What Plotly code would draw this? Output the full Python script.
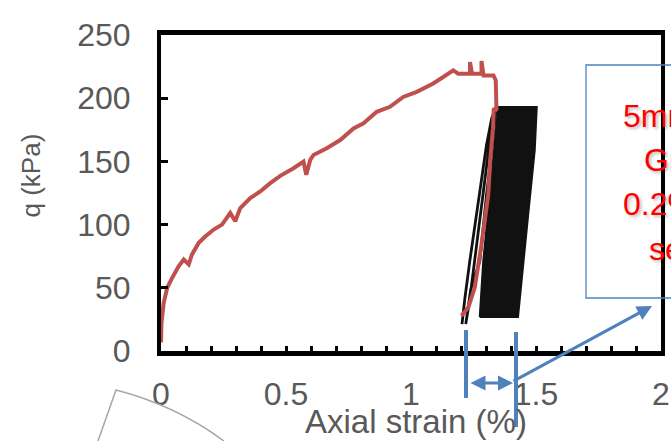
import plotly.graph_objects as go

# Monotonic loading path up to peak, then unloading before cycling
strain_load = [0.0, 0.002, 0.011, 0.025, 0.045, 0.071, 0.091, 0.111, 0.124, 0.151,
               0.178, 0.211, 0.244, 0.277, 0.297, 0.317, 0.357, 0.397, 0.437, 0.477,
               0.53, 0.57, 0.581, 0.597, 0.61, 0.663, 0.717, 0.77, 0.81, 0.863,
               0.916, 0.969, 1.023, 1.089, 1.129, 1.169, 1.189, 1.229, 1.236, 1.236,
               1.244, 1.282, 1.282, 1.29, 1.33, 1.339, 1.342, 1.331, 1.328, 1.317,
               1.309, 1.282, 1.255, 1.229, 1.202]
q_load = [6.8, 22.6, 38.3, 50.1, 58, 67.2, 72.4, 68.5, 76.4, 85.6,
          90.8, 96.1, 100, 109.2, 102.6, 113.1, 121, 126.2, 132.8, 138.6,
          144.6, 149.8, 139.4, 151.2, 155.1, 160.4, 166.9, 176.1, 180.1, 189.2,
          193.2, 201, 205, 211.6, 216.8, 222, 219.4, 219.4, 219.4, 228.6,
          219.4, 219.4, 229.4, 218, 218, 214, 190.5, 191.9, 176.1, 151.2,
          123.6, 84.3, 50.2, 34.4, 27.8]

# First few load–unload cycles
cyc_strain = [1.204, 1.215, 1.235, 1.255, 1.275, 1.302, 1.323, 1.339,
              1.313, 1.288, 1.255, 1.235, 1.219,
              1.239, 1.275, 1.302, 1.326, 1.339]
cyc_q = [21.3, 40.9, 70.9, 97.6, 123.6, 163, 184.3, 192.1,
         163, 123.6, 70.9, 40.9, 21.3,
         48.8, 70.9, 123.6, 163, 189]

# Envelope of the dense cyclic loading band
band_strain = [1.275, 1.289, 1.315, 1.335, 1.349, 1.503, 1.495, 1.468, 1.442, 1.428, 1.275]
band_q = [26.8, 71.1, 123.6, 163, 193, 193, 159, 106.5, 54.1, 26.8, 26.8]

x_ticks = [0, 0.5, 1, 1.5, 2]
x_tick_text = ["0", "0.5", "1", "1.5", "2"]
y_ticks = [0, 50, 100, 150, 200, 250]
y_tick_text = ["0", "50", "100", "150", "200", "250"]

note_lines = ["5mm", "Gravel", "0.2%", "settlement"]

W, H = 671, 441
L, R, T, B = 161, 10, 35, 90
GRAY = "#595959"
BLUE = "#4F81BD"
FONT = "Liberation Sans, Arial, sans-serif"


def px(x):
    return (x - L) / (W - L - R)


def py(y):
    return (H - B - y) / (H - T - B)


fig = go.Figure()
fig.add_trace(go.Scatter(x=band_strain, y=band_q, mode="lines", fill="toself",
                         fillcolor="#111111", line=dict(color="#111111", width=2),
                         hoverinfo="skip", showlegend=False))
fig.add_trace(go.Scatter(x=cyc_strain, y=cyc_q, mode="lines",
                         line=dict(color="#111111", width=2.8),
                         hoverinfo="skip", showlegend=False))
fig.add_trace(go.Scatter(x=strain_load, y=q_load, mode="lines",
                         line=dict(color="#C0504D", width=4),
                         showlegend=False))

axis_common = dict(showline=True, linecolor="black", mirror=True,
                   showgrid=False, zeroline=False, ticks="inside", tickcolor="black",
                   automargin=False,
                   tickfont=dict(family=FONT, size=32, color=GRAY))
fig.update_xaxes(range=[0, 2], tickvals=x_ticks, ticktext=x_tick_text,
                 linewidth=5, ticklen=5, tickwidth=2.5, ticklabelstandoff=11,
                 minor=dict(ticks="inside", dtick=0.1, ticklen=5, tickwidth=2.5,
                            tickcolor="black", showgrid=False),
                 **axis_common)
fig.update_yaxes(range=[0, 250], tickvals=y_ticks, ticktext=y_tick_text,
                 linewidth=4, ticklen=7, tickwidth=3, ticklabelstandoff=20,
                 **axis_common)

shapes = [
    # note box
    dict(type="rect", xref="paper", yref="paper", x0=px(586), x1=px(730),
         y0=py(298), y1=py(65), line=dict(color=BLUE, width=1.3)),
    # strain range markers
    dict(type="line", xref="paper", yref="paper", x0=px(466), x1=px(466),
         y0=py(330), y1=py(398), line=dict(color=BLUE, width=4)),
    dict(type="line", xref="paper", yref="paper", x0=px(516), x1=px(516),
         y0=py(332), y1=py(427), line=dict(color=BLUE, width=4)),
    # wedge outline in the lower left corner
    dict(type="path", xref="paper", yref="paper",
         path=(f"M {px(98)},{py(441)} L {px(116)},{py(390)} "
               f"Q {px(175)},{py(405)} {px(224)},{py(441)}"),
         line=dict(color="#A6A6A6", width=1.5)),
]
fig.update_layout(shapes=shapes)

ann = [
    dict(text="Axial strain (%)", x=px(415.5), y=py(421), xref="paper", yref="paper",
         showarrow=False, xanchor="center", yanchor="middle",
         font=dict(family=FONT, size=33, color=GRAY)),
    dict(text="q (kPa)", x=px(30), y=py(175.5), xref="paper", yref="paper",
         showarrow=False, textangle=-90, xanchor="center", yanchor="middle",
         font=dict(family=FONT, size=26, color=GRAY)),
    # double-headed arrow between the markers
    dict(text="", x=px(513), y=py(383), xref="paper", yref="paper",
         ax=-44, ay=0, axref="pixel", ayref="pixel", showarrow=True,
         arrowhead=2, startarrowhead=2, arrowside="end+start", arrowsize=1,
         startarrowsize=1, arrowwidth=3, arrowcolor=BLUE),
    # pointer to the note box
    dict(text="", x=px(652), y=py(306), xref="paper", yref="paper",
         ax=-140, ay=76, axref="pixel", ayref="pixel", showarrow=True,
         arrowhead=2, arrowsize=1, arrowwidth=3, arrowcolor=BLUE),
]
note_left = [621.7, 643.3, 621.7, 648.3]
note_mid = [116, 160, 204, 249]
for txt, xl, ym in zip(note_lines, note_left, note_mid):
    ann.append(dict(text=txt, x=px(xl), y=py(ym), xref="paper", yref="paper",
                    showarrow=False, xanchor="left", yanchor="middle", borderpad=0,
                    font=dict(family=FONT, size=32, color="#FF0000",
                              shadow="2px 2px 3px rgba(0,0,0,0.25)")))
fig.update_layout(annotations=ann)

fig.update_layout(template="none", width=W, height=H,
                  margin=dict(l=L, r=R, t=T, b=B, pad=0, autoexpand=False),
                  plot_bgcolor="white", paper_bgcolor="white")

fig.write_html("out.html", include_plotlyjs=True, config={"displayModeBar": False})
